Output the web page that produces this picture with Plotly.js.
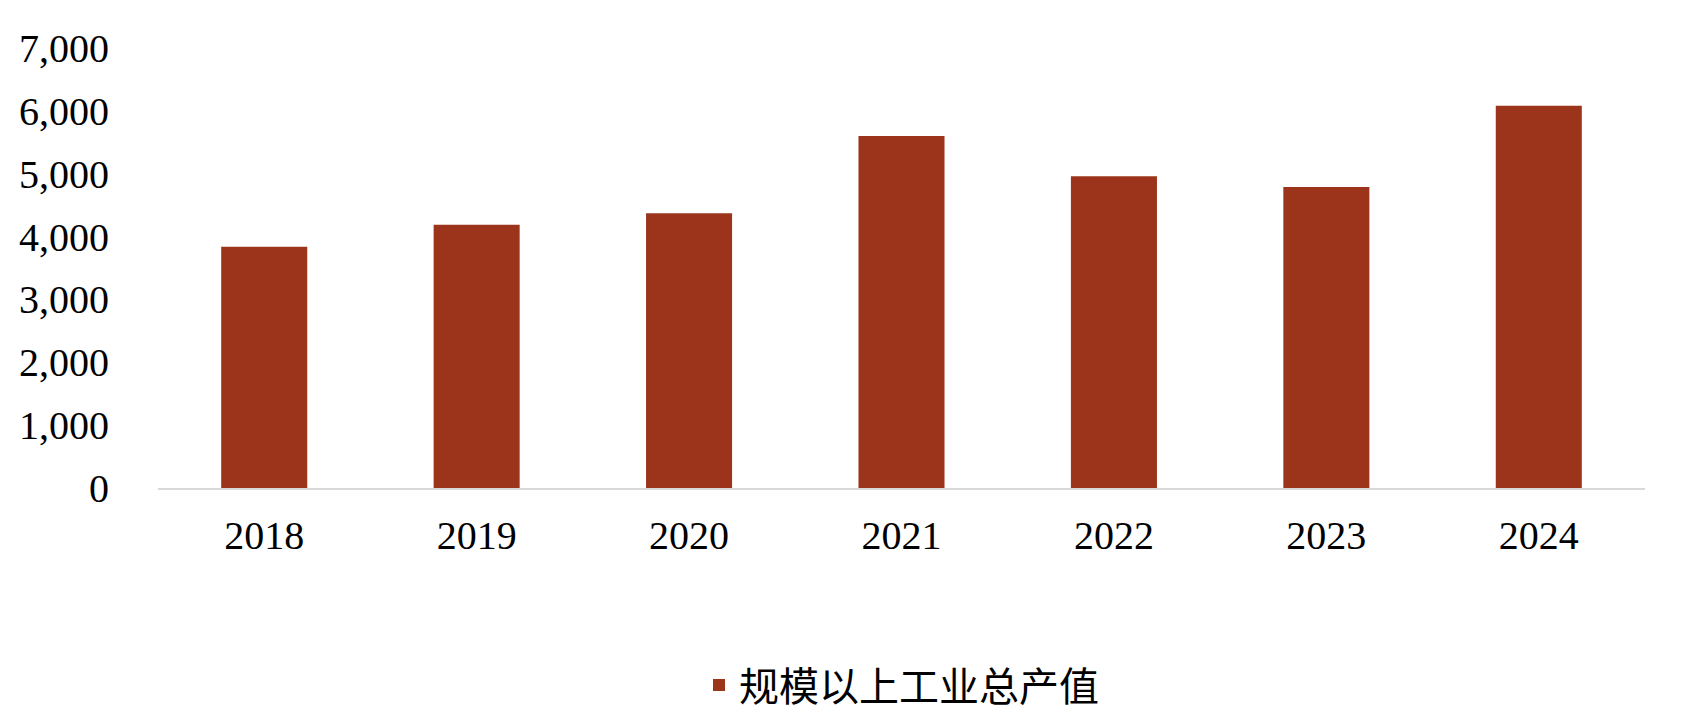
<!DOCTYPE html>
<html>
<head>
<meta charset="utf-8">
<script src="https://cdn.plot.ly/plotly-3.0.1.min.js"></script>
<style>html,body{margin:0;padding:0;background:#fff;}#chart{width:1688px;height:718px;}</style>
</head>
<body>
<div id="chart"></div>
<script>
const years = ["2018", "2019", "2020", "2021", "2022", "2023", "2024"];
const outputValue = [3840, 4190, 4370, 5600, 4960, 4790, 6080];
const seriesName = "规模以上工业总产值";
const yTickVals = [0, 1000, 2000, 3000, 4000, 5000, 6000, 7000];
const yTickText = ["0", "1,000", "2,000", "3,000", "4,000", "5,000", "6,000", "7,000"];

const trace = {
  type: "bar",
  x: years,
  y: outputValue,
  name: seriesName,
  marker: {color: "#9B341A"},
  showlegend: true,
  hoverinfo: "x+y"
};

const layout = {
  width: 1688,
  height: 718,
  margin: {l: 157.5, r: 42.5, t: 48, b: 230.3, pad: 0, autoexpand: false},
  paper_bgcolor: "#ffffff",
  plot_bgcolor: "#ffffff",
  bargap: 0.595,
  showlegend: true,
  font: {family: "Liberation Serif, Times New Roman, serif", color: "#000000", size: 40},
  xaxis: {
    type: "category",
    showgrid: false,
    zeroline: false,
    showline: true,
    linecolor: "#D9D9D9",
    linewidth: 2,
    ticks: "",
    automargin: false,
    ticklabelstandoff: 11,
    tickfont: {family: "Liberation Serif, Times New Roman, serif", size: 40, color: "#000000"}
  },
  yaxis: {
    range: [0, 7000],
    tickvals: yTickVals,
    ticktext: yTickText,
    showgrid: false,
    zeroline: false,
    showline: false,
    ticks: "",
    automargin: false,
    ticklabelstandoff: 48,
    tickfont: {family: "Liberation Serif, Times New Roman, serif", size: 40, color: "#000000"}
  },
  legend: {
    orientation: "h",
    x: 0.5,
    xanchor: "center",
    yref: "container",
    y: 0.046,
    yanchor: "middle",
    font: {family: "Noto Sans CJK SC, sans-serif", size: 40, color: "#000000"},
    bgcolor: "rgba(0,0,0,0)"
  }
};

Plotly.newPlot("chart", [trace], layout, {displayModeBar: false, staticPlot: true});
</script>
</body>
</html>
